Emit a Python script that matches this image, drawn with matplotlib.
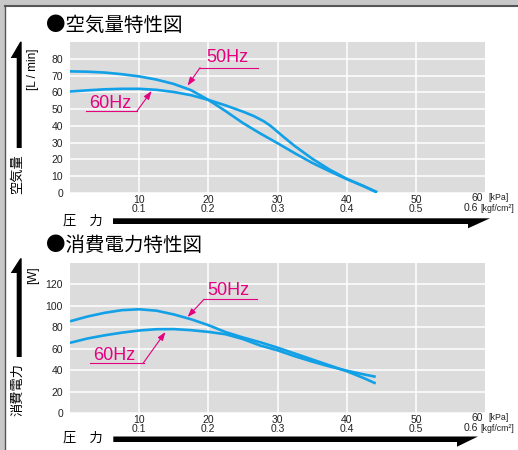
import matplotlib
matplotlib.use("Agg")
import matplotlib.pyplot as plt
import matplotlib.transforms as mtransforms
from matplotlib.patches import Polygon, Rectangle

plt.rcParams['font.family'] = ['Liberation Sans', 'DejaVu Sans']
CJK = ['Noto Sans CJK JP', 'DejaVu Sans']

# ---- data -------------------------------------------------------------
pressure_ticks = [10, 20, 30, 40, 50]
pressure_kgf = ['0.1', '0.2', '0.3', '0.4', '0.5']

air_p_50 = [0, 2.5, 5, 7.5, 10, 12.5, 15, 17.5, 20, 22.5, 25, 27.5, 30, 32.5, 35, 37.5, 40, 42.5, 44.4]
air_q_50 = [72.5, 72.3, 71.8, 70.8, 69.5, 67.6, 65.0, 61.3, 55.5, 48.8, 41.7, 35.5, 29.7, 23.7, 18.0, 13.0, 8.3, 4.0, 0.3]
air_p_60 = [0, 2.5, 5, 7.5, 10, 12.5, 15, 17.5, 20, 22.5, 25, 26.5, 28, 29, 30, 31, 32.5, 35, 37.5, 40, 42.5, 44.4]
air_q_60 = [60.5, 61.2, 61.8, 62.1, 62.1, 61.5, 60.2, 58.3, 55.5, 52.2, 48.5, 46.0, 42.8, 40.0, 36.5, 33.0, 28.0, 20.5, 14.0, 8.5, 4.0, 0.5]

pow_p_50 = [0, 2.5, 5, 7.5, 10, 12.5, 15, 17.5, 20, 22.5, 25, 27.5, 30, 32.5, 35, 37.5, 40, 42.5, 44.2]
pow_w_50 = [85.6, 90.0, 93.5, 96.0, 96.8, 95.5, 92.0, 87.5, 82.0, 75.5, 70.5, 66.0, 61.0, 55.5, 50.0, 44.5, 39.0, 32.5, 27.6]
pow_p_60 = [0, 2.5, 5, 7.5, 10, 12.5, 15, 17.5, 20, 22.5, 25, 27.5, 30, 32.5, 35, 37.5, 40, 42.5, 44.2]
pow_w_60 = [65.5, 69.5, 72.5, 75.0, 77.0, 78.2, 78.3, 77.3, 75.7, 73.5, 69.0, 63.0, 58.5, 53.0, 48.0, 43.5, 39.5, 36.0, 33.8]

BLUE = '#12a0e6'
MAGENTA = '#e4007f'
W, H = 518, 450

fig = plt.figure(figsize=(W / 100, H / 100), dpi=100)
fig.patch.set_facecolor('#c8c8c8')
# pixel coordinates, origin at the top-left corner
px = mtransforms.Affine2D().scale(1 / W, -1 / H).translate(0, 1) + fig.transFigure

# white sheet with a dark edge on top and left
fig.patches.append(Rectangle((5, 6.5), W, H, transform=px, facecolor='white',
                             edgecolor='none', zorder=-5))
fig.lines.append(plt.Line2D([5, W], [6, 6], transform=px, color='#555555', lw=1.5, zorder=-4))
fig.lines.append(plt.Line2D([4.5, 4.5], [6, H], transform=px, color='#555555', lw=1.0, zorder=-4))


def make_axes(top_px, bottom_px, ymax, ystep, ylim_top):
    ax = fig.add_axes([70 / W, 1 - bottom_px / H, 415 / W, (bottom_px - top_px) / H])
    ax.set_facecolor('#dcdcdc')
    for s in ax.spines.values():
        s.set_visible(False)
    ax.set_xlim(0, 60)
    ax.set_ylim(0, ylim_top)
    ax.set_xticks(pressure_ticks)
    ax.set_xticklabels([f'{a}\n{b}' for a, b in zip(pressure_ticks, pressure_kgf)])
    ax.set_yticks(list(range(0, ymax + 1, ystep)))
    ax.tick_params(length=0, labelsize=7.5, colors='#222222')
    ax.tick_params(axis='x', pad=1.5)
    ax.tick_params(axis='y', pad=5)
    for t in ax.get_xticklabels():
        t.set_linespacing(0.85)
    ax.grid(True, color='white', lw=1.1)
    ax.set_axisbelow(True)
    return ax


def half_arrow_up(x0, x1, tip_y, base_y, end_y):
    fig.patches.append(Polygon([(x0, end_y), (x1, end_y), (x1, tip_y), (x1 - 1.5, tip_y),
                                (x0 - 6, base_y), (x0, base_y)], closed=True,
                               transform=px, facecolor='black', edgecolor='none'))


def half_arrow_right(x_start, tip_x, y0, y1, barb_x, barb_y):
    fig.patches.append(Polygon([(x_start, y0), (tip_x, y0), (barb_x, barb_y), (barb_x, y1),
                                (x_start, y1)], closed=True,
                               transform=px, facecolor='black', edgecolor='none'))


def callout(ax, label, text_xy, line_x0, line_x1, line_y, tip, elbow_left):
    fig.text(*text_xy, label, transform=px, color=MAGENTA, fontsize=13, ha='left', va='center')
    fig.lines.append(plt.Line2D([line_x0, line_x1], [line_y, line_y], transform=px,
                                color=MAGENTA, lw=0.8))
    elbow = (line_x0, line_y) if elbow_left else (line_x1, line_y)
    ax.annotate('', xy=tip, xycoords='data', xytext=elbow, textcoords=px,
                arrowprops=dict(arrowstyle='-|>,head_length=0.5,head_width=0.18',
                                color=MAGENTA, lw=0.8, shrinkA=0, shrinkB=0))


def decorate(title, title_y, ylabel, ylabel_y, vtext, vtext_y, axis_y, units_y, arrow):
    fig.text(46, title_y, title, transform=px, family=CJK, fontsize=14,
             ha='left', va='center')
    fig.text(33, ylabel_y, ylabel, transform=px, fontsize=8.5, rotation=90,
             ha='center', va='center')
    fig.text(17.5, vtext_y, vtext, transform=px, family=CJK, fontsize=9.5, rotation=90,
             ha='center', va='center')
    fig.text(63, axis_y, '圧\u3000力', transform=px, family=CJK, fontsize=9.5,
             ha='left', va='center')
    fig.text(483, units_y, '60', transform=px, fontsize=7.5, ha='right', va='center',
             color='#222222')
    fig.text(478.5, units_y + 10, '0.6', transform=px, fontsize=7.5, ha='right',
             va='center', color='#222222')
    fig.text(488.5, units_y - 0.5, '[kPa]', transform=px, fontsize=6.3, ha='left',
             va='center', color='#222222')
    fig.text(480.5, units_y + 10.5, '[kgf/cm²]', transform=px, fontsize=6.3, ha='left',
             va='center', color='#222222')
    arrow()


# ---- air flow -------------------------------------------------------------
ax1 = make_axes(42, 193, 80, 10, 90)
ax1.plot(air_p_50, air_q_50, color=BLUE, lw=1.9, solid_capstyle='butt')
ax1.plot(air_p_60, air_q_60, color=BLUE, lw=1.9, solid_capstyle='butt')
callout(ax1, '50Hz', (206, 58), 200, 257.5, 67.7, (17.0, 64.0), True)
callout(ax1, '60Hz', (89.5, 103), 86, 137, 111, (11.8, 60.8), False)
decorate('●空気量特性図', 25, '[L / min]', 69, '空気量', 174, 221, 198.3,
         lambda: (half_arrow_up(16.7, 21.7, 41.7, 58, 148),
                  half_arrow_right(113, 490, 218.3, 224, 468, 228.3)))

# ---- power consumption --------------------------------------------------
ax2 = make_axes(263, 413, 120, 20, 140)
ax2.plot(pow_p_50, pow_w_50, color=BLUE, lw=1.9, solid_capstyle='butt')
ax2.plot(pow_p_60, pow_w_60, color=BLUE, lw=1.9, solid_capstyle='butt')
callout(ax2, '50Hz', (207.5, 290.5), 204, 257, 299.3, (17.0, 89.6), True)
callout(ax2, '60Hz', (93.5, 355), 90, 143.5, 362.7, (13.8, 75.6), False)
decorate('●消費電力特性図', 245, '[W]', 275, '消費電力', 390, 438, 418,
         lambda: (half_arrow_up(16.7, 21.7, 258.3, 273, 357),
                  half_arrow_right(113.3, 478, 436.5, 442, 457, 446.7)))

fig.savefig('out.png', dpi=100, facecolor=fig.get_facecolor())
